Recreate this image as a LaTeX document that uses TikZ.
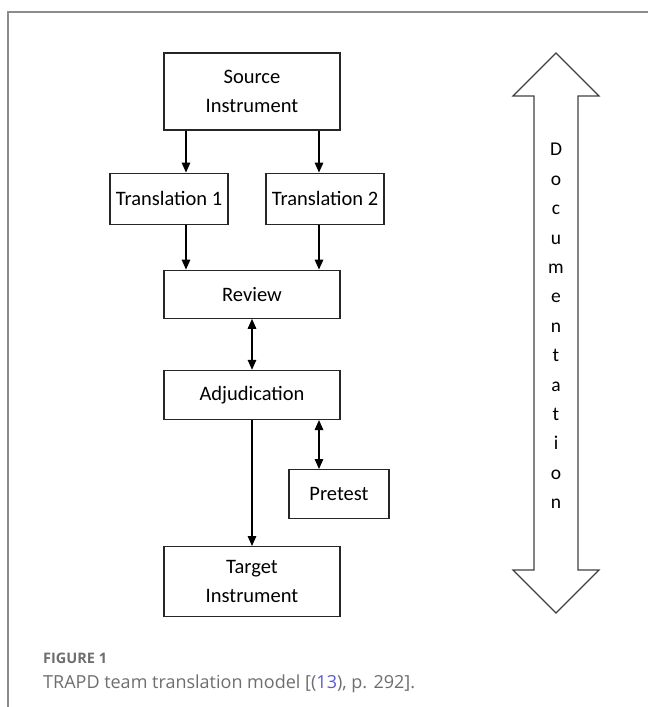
\documentclass[tikz,border=0pt]{standalone}
\usepackage{fontspec}
\setmainfont{Carlito}
\newfontfamily\capfont{Open Sans}
\usetikzlibrary{arrows.meta, positioning}

\definecolor{framegray}{HTML}{8C8C8C}
\definecolor{captext}{HTML}{6E6E6E}
\definecolor{citeblue}{HTML}{5A5AD8}

\begin{document}
\begin{tikzpicture}[x=1pt, y=-1pt, >={Triangle[length=10pt,width=8.5pt]},
    font=\fontsize{20.5}{29}\selectfont]
  \tikzset{
    box/.style={
      draw=black!85,
      line width=1.2pt,
      minimum width=176pt,
      align=center,
      inner sep=0pt},
    trbox/.style={
      box,
      minimum width=118pt,
      minimum height=51pt},
    link/.style={
      line width=1.5pt}}

  \useasboundingbox (0,0) rectangle (648,707);

  % frame of the figure panel
  \draw[framegray, line width=1.2pt] (8,707) -- (8,12) -- (648,12);

  \node[box, minimum height=77pt] (src) at (252,91.5) {Source\\Instrument};
  \node[trbox] (tr1) [below=42pt of src, xshift=-83pt] {Translation 1};
  \node[trbox] (tr2) [below=42pt of src, xshift=73pt] {Translation 2};
  \node[box, minimum height=48pt] (rev) [below=139pt of src] {Review};
  \node[box, minimum height=49pt] (adj) [below=51pt of rev] {Adjudication};
  \node[box, minimum width=100pt, minimum height=49pt] (pre) [below=49pt of adj, xshift=87pt] {Pretest};
  \node[box, minimum height=70pt] (tgt) [below=126pt of adj] {Target\\Instrument};

  \draw[link, ->] ([xshift=-66pt]src.south) -- ([xshift=-66pt]src.south |- tr1.north);
  \draw[link, ->] ([xshift=67pt]src.south) -- ([xshift=67pt]src.south |- tr2.north);
  \draw[link, ->] ([xshift=17pt]tr1.south) -- ([xshift=17pt]tr1.south |- rev.north);
  \draw[link, ->] ([xshift=-6pt]tr2.south) -- ([xshift=-6pt]tr2.south |- rev.north);
  \draw[link, <->] (rev.south) -- (adj.north);
  \draw[link, ->] (adj.south) -- (tgt.north);
  \draw[link, <->] ([xshift=-20pt]pre.north |- adj.south) -- ([xshift=-20pt]pre.north);

  % documentation arrow
  \draw[black!75, line width=1.2pt, line join=miter]
    (556,53) -- (599,96) -- (578,96) -- (578,570) -- (599,570) -- (556,613)
    -- (513,570) -- (534,570) -- (534,96) -- (513,96) -- cycle;
  \node[align=center, font=\fontsize{19.5}{29.4}\selectfont] (doc) at (556,326)
    {D\\o\\c\\u\\m\\e\\n\\t\\a\\t\\i\\o\\n};

  % caption
  \node[anchor=base west, inner sep=0pt, text=captext,
    font=\capfont\bfseries\fontsize{14.5}{17}\selectfont] (fig) at (43,663) {FIGURE 1};
  \node[anchor=base west, inner sep=0pt, text=captext,
    font=\capfont\fontsize{18}{21}\selectfont] (cap) at (43,688)
    {TRAPD team translation model [(\textcolor{citeblue}{13}), p. 292].};
\end{tikzpicture}
\end{document}
